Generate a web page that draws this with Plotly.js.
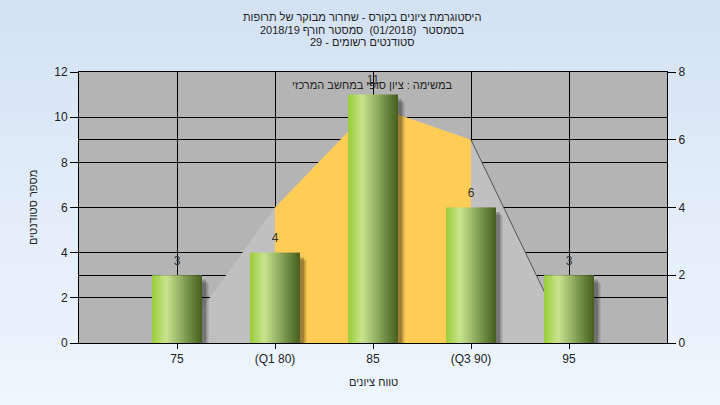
<!DOCTYPE html>
<html>
<head>
<meta charset="utf-8">
<script src="https://cdn.plot.ly/plotly-3.0.1.min.js"></script>
<style>
  html, body { margin: 0; padding: 0; }
  #chart { width: 720px; height: 405px; background: linear-gradient(to bottom, #d3e1f3 0%, #e2edf9 50%, #eef6fe 100%); }
</style>
</head>
<body>
<div id="chart"></div>
<script>
// ---- data ----
const categories = ['75', '(Q1 80)', '85', '(Q3 90)', '95'];
const counts = [3, 4, 11, 6, 3];
const curveValues = [0, 4, 7, 6, 0];
const q1Index = 1;
const q3Index = 3;
const titleLines = [
  'היסטוגרמת ציונים בקורס - שחרור מבוקר של תרופות',
  'בסמסטר  (01/2018)  סמסטר חורף 2018/19',
  'סטודנטים רשומים - 29'
];
const subTitle = 'במשימה : ציון סופי במחשב המרכזי';
const xTitle = 'טווח ציונים';
const yTitle = 'מספר סטודנטים';

// ---- layout helpers ----
const W = 720, H = 405, L = 79, R = 53, T = 72, B = 62;
const pw = W - L - R, ph = H - T - B;
const px = x => (x - L) / pw;
const py = y => (H - B - y) / ph;

const traces = [];

// distribution area (right axis)
traces.push({
  x: categories, y: curveValues, type: 'scatter', mode: 'lines',
  fill: 'tozeroy', fillcolor: '#c0c0c0', line: {width: 0, color: 'rgba(0,0,0,0)'},
  yaxis: 'y', xaxis: 'x', hoverinfo: 'skip'
});
traces.push({
  x: categories.slice(q1Index, q3Index + 1), y: curveValues.slice(q1Index, q3Index + 1),
  type: 'scatter', mode: 'lines', fill: 'tozeroy', fillcolor: '#ffcc55',
  line: {width: 0, color: 'rgba(0,0,0,0)'}, yaxis: 'y', xaxis: 'x', hoverinfo: 'skip'
});
traces.push({
  x: categories.slice(q3Index), y: curveValues.slice(q3Index),
  type: 'scatter', mode: 'lines', line: {width: 1, color: '#555555'},
  yaxis: 'y', xaxis: 'x', hoverinfo: 'skip'
});

// bars (left axis) : shadows
const barW = 0.51;
[[0.07, 0.35, 0.10], [0.055, 0.28, 0.14], [0.04, 0.2, 0.2]].forEach(([dx, dy, op]) => {
  traces.push({
    x: categories, y: counts, base: -dy, type: 'bar', yaxis: 'y2', xaxis: 'x',
    offset: -barW / 2 + dx, width: barW, cliponaxis: false,
    marker: {color: 'rgba(0,0,0,' + op + ')', line: {width: 0}}, hoverinfo: 'skip'
  });
});

// bars: gradient strips
const stops = [[0, [152, 204, 56]], [0.28, [202, 228, 142]], [0.55, [150, 178, 100]], [0.8, [102, 130, 60]], [1, [70, 94, 30]]];
function colorAt(t) {
  for (let i = 0; i < stops.length - 1; i++) {
    const [t0, c0] = stops[i], [t1, c1] = stops[i + 1];
    if (t <= t1) {
      const f = (t - t0) / (t1 - t0);
      return 'rgb(' + c0.map((c, k) => Math.round(c + (c1[k] - c) * f)).join(',') + ')';
    }
  }
  return 'rgb(' + stops[stops.length - 1][1].join(',') + ')';
}
const N = 25;
const sw = barW / N;
for (let i = 0; i < N; i++) {
  traces.push({
    x: categories, y: counts, type: 'bar', yaxis: 'y2', xaxis: 'x',
    offset: -barW / 2 + i * sw, width: (i === N - 1 ? sw : sw * 1.4),
    marker: {color: colorAt((i + 0.5) / N), line: {width: 0}}, hoverinfo: 'skip'
  });
}

// value labels (invisible marker pushes the text up)
traces.push({
  x: categories, y: counts, text: counts.map(String), type: 'scatter', mode: 'markers+text',
  marker: {size: 10, color: 'rgba(0,0,0,0)'},
  textposition: 'top center', textfont: {family: 'Arial, Liberation Sans', size: 12, color: '#333333'},
  yaxis: 'y2', xaxis: 'x', hoverinfo: 'skip', cliponaxis: false
});

const font = {family: 'Arial, Liberation Sans, sans-serif', size: 12, color: '#222222'};
const titleFont = {family: 'Arial, Liberation Sans, sans-serif', size: 11, color: '#222222'};
const annotations = [];
const titleY = [17.5, 29.5, 41.5];
titleLines.forEach((t, i) => annotations.push({
  text: t, xref: 'paper', yref: 'paper', x: px(362), y: py(titleY[i]),
  xanchor: 'center', yanchor: 'middle', showarrow: false, font: titleFont, borderpad: 0
}));
annotations.push({
  text: subTitle, xref: 'paper', yref: 'paper', x: px(372), y: py(85),
  xanchor: 'center', yanchor: 'middle', showarrow: false, font: titleFont
});
annotations.push({
  text: xTitle, xref: 'paper', yref: 'paper', x: px(373), y: py(382),
  xanchor: 'center', yanchor: 'middle', showarrow: false, font: titleFont
});
annotations.push({
  text: yTitle, xref: 'paper', yref: 'paper', x: px(33), y: py(208), textangle: -90,
  xanchor: 'center', yanchor: 'middle', showarrow: false, font: titleFont
});

const layout = {
  width: W, height: H,
  margin: {l: L, r: R, t: T, b: B, pad: 0},
  paper_bgcolor: 'rgba(0,0,0,0)', plot_bgcolor: '#b4b4b4',
  font: font, showlegend: false, barmode: 'overlay',
  xaxis: {
    type: 'category', categoryorder: 'array', categoryarray: categories,
    range: [-1, categories.length], showgrid: true, gridcolor: '#000000', gridwidth: 1,
    showline: true, mirror: true, linecolor: '#000000', linewidth: 1,
    ticks: 'outside', ticklen: 5, tickcolor: '#000000', zeroline: false,
    tickfont: font, fixedrange: true
  },
  yaxis: {
    side: 'right', range: [0, 8], dtick: 2, tick0: 0, showgrid: true, gridcolor: '#000000', gridwidth: 1,
    showline: true, linecolor: '#000000', linewidth: 1, ticks: 'outside', ticklen: 8,
    tickcolor: '#000000', zeroline: false, tickfont: font, fixedrange: true
  },
  yaxis2: {
    overlaying: 'y', side: 'left', anchor: 'x', range: [0, 12], dtick: 2, tick0: 0,
    showgrid: true, gridcolor: '#000000', gridwidth: 1,
    showline: true, linecolor: '#000000', linewidth: 1, ticks: 'outside', ticklen: 8,
    tickcolor: '#000000', zeroline: false, tickfont: font, fixedrange: true
  },
  annotations: annotations
};

Plotly.newPlot('chart', traces, layout, {staticPlot: true, displayModeBar: false});
</script>
</body>
</html>
